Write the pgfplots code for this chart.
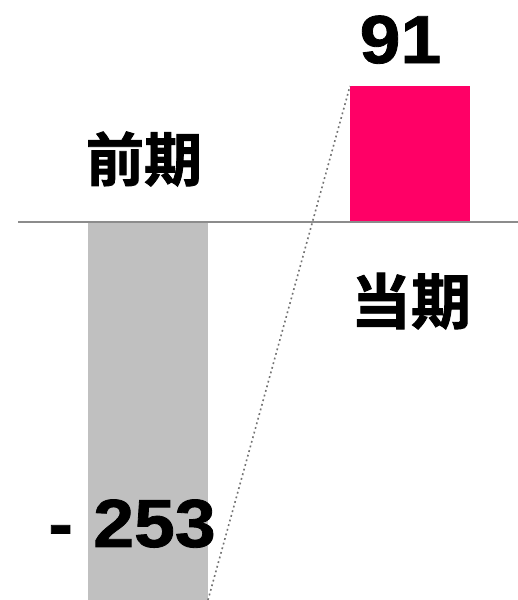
\documentclass[border=0pt]{standalone}
\usepackage{pgfplots}
\pgfplotsset{compat=1.18}
\usepackage{fontspec}
\setmainfont{Liberation Sans}
\newfontfamily\heavy{Liberation Sans Bold}[FakeBold=1.2, FakeStretch=1.08]
\newfontfamily\cjk{Noto Sans CJK JP Bold}[FakeBold=1.5]
\definecolor{barpink}{HTML}{FF0066}
\definecolor{bargray}{HTML}{C0C0C0}
\begin{document}
\begin{tikzpicture}
\begin{axis}[
  scale only axis, width=518pt, height=600pt,
  xmin=0, xmax=518, ymin=-253, ymax=148.6,
  axis lines=none, clip=false,
]
\addplot[ybar, bar width=120, fill=bargray, draw=none, bar shift=0pt] coordinates {(148,-253)};
\addplot[ybar, bar width=120, fill=barpink, draw=none, bar shift=0pt] coordinates {(410,91)};
\addplot[draw=gray!90, line width=1.2pt, mark=none] coordinates {(18,0) (518,0)};
\addplot[draw=black!55, line width=1.6pt, dash pattern=on 1.8pt off 3pt, mark=none] coordinates {(208,-253) (350,91)};
\node[anchor=base, inner sep=0pt, font=\fontsize{68}{70}\selectfont\heavy] at (axis cs:400.5,106.4) {91};
\node[anchor=base east, inner sep=0pt, font=\fontsize{68}{70}\selectfont\heavy] at (axis cs:216,-217.5) {- 253};
\node[anchor=center, inner sep=0pt, font=\fontsize{58}{60}\selectfont\cjk] at (axis cs:144,42.2) {前期};
\node[anchor=center, inner sep=0pt, font=\fontsize{60}{62}\selectfont\cjk] at (axis cs:411,-52.9) {当期};
\end{axis}
\pgfresetboundingbox
\path (current axis.south west) rectangle (current axis.north east);
\end{tikzpicture}
\end{document}
